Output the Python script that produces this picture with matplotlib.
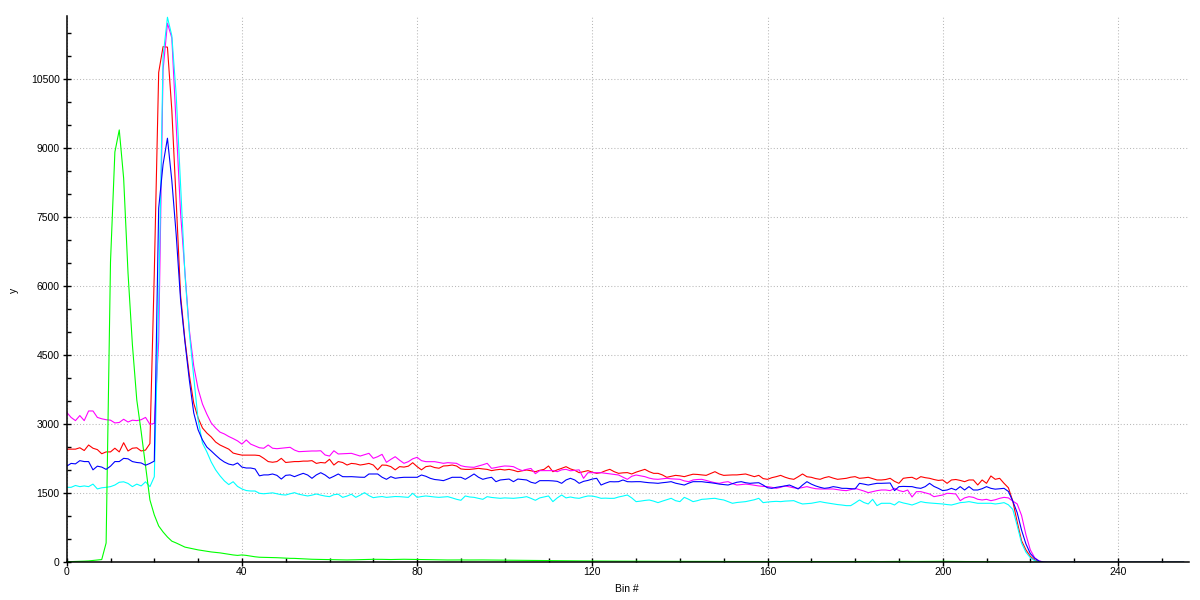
import matplotlib
matplotlib.use("Agg")
import matplotlib.pyplot as plt
from matplotlib.ticker import MultipleLocator

# bin numbers along x
bins = list(range(256))

red = [
    2460, 2460, 2460, 2490, 2430, 2550, 2480, 2450, 2360, 2400,
    2400, 2480, 2400, 2600, 2420, 2480, 2490, 2420, 2440, 2580,
    6300, 10650, 11210, 11200, 9830, 7850, 5800, 4830, 4070, 3460,
    3140, 2920, 2810, 2725, 2615, 2550, 2505, 2460, 2375, 2350,
    2330, 2330, 2330, 2330, 2320, 2260, 2190, 2175, 2190, 2260,
    2170, 2180, 2190, 2190, 2200, 2200, 2210, 2150, 2170, 2160,
    2240, 2115, 2190, 2170, 2115, 2150, 2140, 2115, 2130, 2150,
    2115, 2010, 2115, 2110, 2080, 2010, 2080, 2070, 2090, 2165,
    2080, 2010, 2080, 2094, 2060, 2045, 2094, 2100, 2115, 2094,
    2030, 2020, 2020, 2030, 2043, 2030, 2020, 1993, 2010, 2021,
    2007, 2020, 2000, 1970, 1990, 2007, 1990, 1970, 2000, 2021,
    2094, 1970, 2010, 2043, 2079, 2030, 2000, 1948, 1970, 1993,
    1960, 1934, 1950, 1990, 2021, 1970, 1934, 1945, 1950, 1920,
    1960, 1990, 2021, 1970, 1934, 1934, 1900, 1848, 1870, 1890,
    1880, 1862, 1890, 1915, 1910, 1900, 1890, 1930, 1970, 1920,
    1890, 1895, 1900, 1900, 1910, 1920, 1890, 1862, 1890, 1820,
    1804, 1840, 1862, 1890, 1850, 1820, 1804, 1860, 1920, 1860,
    1848, 1820, 1804, 1840, 1862, 1830, 1804, 1815, 1826, 1850,
    1862, 1826, 1835, 1848, 1820, 1790, 1790, 1800, 1826, 1760,
    1717, 1826, 1840, 1848, 1804, 1862, 1840, 1826, 1800, 1780,
    1790, 1717, 1790, 1800, 1780, 1753, 1790, 1790, 1681, 1790,
    1717, 1877, 1804, 1826, 1717, 1620, 1330, 880, 470, 270,
    130, 50, 12, 0, 0, 0, 0, 0, 0, 0,
    0, 0, 0, 0, 0, 0, 0, 0, 0, 0,
    0, 0, 0, 0, 0, 0, 0, 0, 0, 0,
    0, 0, 0, 0, 0, 0,
]

green = [
    15, 15, 18, 20, 25, 30, 40, 50, 60, 420,
    6530, 8920, 9400, 8350, 6290, 4730, 3530, 2840, 2090, 1355,
    1030, 790, 660, 550, 460, 420, 375, 330, 310, 290,
    270, 255, 240, 225, 215, 205, 190, 175, 160, 150,
    160, 150, 135, 120, 110, 108, 108, 105, 100, 95,
    90, 86, 85, 80, 75, 70, 66, 65, 62, 60,
    58, 55, 52, 51, 51, 52, 55, 58, 62, 65,
    65, 65, 64, 62, 60, 62, 65, 66, 65, 64,
    62, 60, 58, 55, 52, 51, 51, 50, 51, 52,
    51, 50, 50, 51, 52, 51, 50, 50, 49, 48,
    48, 47, 46, 45, 44, 42, 40, 38, 37, 36,
    36, 36, 35, 34, 33, 32, 31, 30, 30, 30,
    29, 28, 28, 27, 27, 26, 26, 25, 25, 25,
    24, 24, 23, 23, 22, 22, 22, 21, 21, 21,
    20, 20, 20, 20, 19, 19, 19, 19, 18, 18,
    18, 18, 18, 17, 17, 17, 17, 17, 16, 16,
    16, 16, 16, 16, 16, 15, 15, 15, 15, 15,
    15, 15, 16, 15, 15, 14, 15, 15, 16, 15,
    16, 17, 18, 18, 17, 16, 16, 17, 18, 19,
    20, 20, 19, 18, 18, 19, 20, 21, 22, 22,
    22, 21, 20, 20, 19, 18, 18, 17, 16, 15,
    14, 12, 10, 8, 5, 3, 1, 0, 0, 0,
    0, 0, 0, 0, 0, 0, 0, 0, 0, 0,
    0, 0, 0, 0, 0, 0, 0, 0, 0, 0,
    0, 0, 0, 0, 0, 0, 0, 0, 0, 0,
    0, 0, 0, 0, 0, 0,
]

blue = [
    2090, 2150, 2140, 2210, 2190, 2190, 2010, 2090, 2070, 2020,
    2090, 2190, 2190, 2260, 2250, 2190, 2170, 2160, 2110, 2150,
    2200, 7700, 8650, 9220, 8300, 7120, 5700, 4790, 3960, 3250,
    2880, 2660, 2505, 2420, 2330, 2245, 2180, 2135, 2115, 2160,
    2070, 2050, 2050, 2030, 1880, 1900, 1900, 1920, 1890, 1810,
    1890, 1900, 1862, 1900, 1934, 1898, 1826, 1900, 1948, 1898,
    1826, 1870, 1920, 1862, 1860, 1862, 1855, 1850, 1848, 1920,
    1920, 1920, 1850, 1804, 1862, 1826, 1840, 1848, 1848, 1848,
    1848, 1898, 1870, 1826, 1800, 1790, 1775, 1810, 1848, 1848,
    1848, 1804, 1860, 1920, 1850, 1804, 1830, 1848, 1753, 1790,
    1800, 1810, 1753, 1810, 1800, 1790, 1740, 1717, 1775, 1775,
    1775, 1770, 1760, 1717, 1790, 1826, 1790, 1717, 1760, 1780,
    1810, 1826, 1680, 1720, 1753, 1750, 1753, 1790, 1753, 1750,
    1753, 1753, 1740, 1730, 1725, 1717, 1730, 1740, 1753, 1720,
    1700, 1680, 1720, 1753, 1753, 1753, 1740, 1730, 1717, 1700,
    1690, 1680, 1710, 1740, 1753, 1730, 1717, 1725, 1730, 1680,
    1620, 1608, 1630, 1645, 1660, 1680, 1640, 1594, 1680, 1753,
    1700, 1660, 1630, 1608, 1620, 1645, 1630, 1608, 1608, 1600,
    1594, 1717, 1700, 1680, 1700, 1717, 1717, 1720, 1724, 1558,
    1645, 1650, 1648, 1645, 1620, 1608, 1645, 1717, 1650, 1608,
    1558, 1572, 1608, 1572, 1645, 1572, 1645, 1572, 1572, 1600,
    1645, 1608, 1590, 1600, 1608, 1540, 1330, 1080, 700, 400,
    190, 87, 25, 5, 0, 0, 0, 0, 0, 0,
    0, 0, 0, 0, 0, 0, 0, 0, 0, 0,
    0, 0, 0, 0, 0, 0, 0, 0, 0, 0,
    0, 0, 0, 0, 0, 0,
]

cyan = [
    1630, 1630, 1670, 1645, 1660, 1645, 1700, 1595, 1620, 1630,
    1645, 1680, 1740, 1750, 1715, 1645, 1700, 1660, 1750, 1645,
    1860, 5600, 11000, 11850, 11450, 10160, 8200, 6250, 4990, 4030,
    3100, 2590, 2400, 2180, 2010, 1880, 1770, 1690, 1752, 1650,
    1595, 1560, 1550, 1550, 1500, 1490, 1500, 1510, 1490, 1470,
    1463, 1490, 1514, 1480, 1460, 1442, 1460, 1485, 1460, 1440,
    1427, 1470, 1480, 1412, 1440, 1480, 1412, 1460, 1514, 1450,
    1405, 1420, 1430, 1412, 1420, 1430, 1427, 1420, 1412, 1500,
    1412, 1430, 1442, 1430, 1420, 1412, 1420, 1427, 1400, 1370,
    1348, 1442, 1420, 1412, 1390, 1369, 1427, 1410, 1400, 1391,
    1400, 1395, 1391, 1400, 1410, 1427, 1390, 1348, 1400, 1420,
    1442, 1319, 1400, 1463, 1400, 1420, 1400, 1391, 1420, 1442,
    1440, 1420, 1391, 1395, 1390, 1391, 1420, 1440, 1463, 1400,
    1319, 1330, 1345, 1355, 1330, 1297, 1330, 1360, 1391, 1340,
    1319, 1412, 1370, 1319, 1340, 1369, 1375, 1385, 1391, 1370,
    1355, 1320, 1283, 1300, 1310, 1319, 1340, 1360, 1391, 1297,
    1310, 1319, 1325, 1319, 1330, 1335, 1340, 1300, 1268, 1275,
    1283, 1300, 1319, 1300, 1285, 1268, 1255, 1245, 1232, 1232,
    1290, 1355, 1300, 1268, 1369, 1232, 1283, 1283, 1283, 1246,
    1319, 1290, 1270, 1246, 1280, 1319, 1300, 1290, 1283, 1275,
    1268, 1255, 1246, 1270, 1297, 1305, 1319, 1300, 1283, 1283,
    1283, 1283, 1268, 1280, 1297, 1250, 1150, 800, 420, 220,
    100, 35, 8, 0, 0, 0, 0, 0, 0, 0,
    0, 0, 0, 0, 0, 0, 0, 0, 0, 0,
    0, 0, 0, 0, 0, 0, 0, 0, 0, 0,
    0, 0, 0, 0, 0, 0,
]

magenta = [
    3260, 3150, 3080, 3190, 3080, 3290, 3290, 3150, 3120, 3100,
    3090, 3030, 3040, 3110, 3050, 3090, 3080, 3100, 3150, 3000,
    3020, 4800, 10700, 11720, 11400, 9480, 7590, 6300, 5050, 4270,
    3770, 3440, 3220, 3030, 2920, 2830, 2790, 2735, 2690, 2640,
    2570, 2660, 2570, 2530, 2490, 2480, 2550, 2480, 2470, 2480,
    2490, 2500, 2440, 2405, 2410, 2415, 2420, 2420, 2425, 2333,
    2310, 2425, 2355, 2360, 2365, 2369, 2340, 2310, 2340, 2369,
    2260, 2296, 2347, 2173, 2238, 2296, 2220, 2152, 2188, 2250,
    2282, 2210, 2188, 2188, 2188, 2170, 2152, 2166, 2160, 2152,
    2100, 2079, 2070, 2065, 2094, 2120, 2152, 2043, 2060, 2080,
    2094, 2090, 2079, 2030, 1993, 2021, 2040, 1927, 1993, 1993,
    1993, 1993, 1970, 2010, 2021, 1990, 2000, 2010, 1826, 1948,
    1948, 1948, 1948, 1935, 1920, 1910, 1898, 1850, 1804, 1870,
    1898, 1880, 1862, 1830, 1810, 1804, 1815, 1826, 1815, 1810,
    1804, 1770, 1753, 1790, 1800, 1804, 1780, 1753, 1730, 1717,
    1740, 1753, 1710, 1680, 1690, 1700, 1690, 1675, 1660, 1650,
    1645, 1630, 1608, 1630, 1660, 1640, 1620, 1608, 1625, 1645,
    1620, 1600, 1594, 1594, 1594, 1594, 1580, 1565, 1558, 1580,
    1608, 1580, 1550, 1514, 1535, 1558, 1572, 1572, 1558, 1608,
    1560, 1536, 1572, 1420, 1536, 1536, 1510, 1485, 1427, 1445,
    1463, 1500, 1495, 1485, 1340, 1400, 1427, 1412, 1370, 1355,
    1369, 1340, 1360, 1391, 1412, 1400, 1330, 1270, 1020, 600,
    270, 100, 30, 8, 0, 0, 0, 0, 0, 0,
    0, 0, 0, 0, 0, 0, 0, 0, 0, 0,
    0, 0, 0, 0, 0, 0, 0, 0, 0, 0,
    0, 0, 0, 0, 0, 0,
]

plt.rcParams["font.family"] = ["Liberation Sans", "DejaVu Sans"]
plt.rcParams["font.size"] = 7.5

fig = plt.figure(figsize=(12, 6), dpi=100)
ax = fig.add_axes([66.7 / 1200, 37.7 / 600, 1122.6 / 1200, 546.3 / 600])

lw = 0.8
ax.plot(bins, red, color="#ff0000", lw=lw)
ax.plot(bins, magenta, color="#ff00ff", lw=lw)
ax.plot(bins, cyan, color="#00ffff", lw=lw)
ax.plot(bins, green, color="#00ff00", lw=lw)
ax.plot(bins, blue, color="#0000ff", lw=lw)

ax.set_xlim(0, 256.3)
ax.set_ylim(0, 11877)

ax.xaxis.set_major_locator(MultipleLocator(40))
ax.xaxis.set_minor_locator(MultipleLocator(10))
ax.yaxis.set_major_locator(MultipleLocator(1500))
ax.yaxis.set_minor_locator(MultipleLocator(500))

ax.grid(True, which="major", color="#b8b8b8", linestyle=(0, (1, 2)), linewidth=0.75)
ax.set_axisbelow(True)

for side in ["top", "right"]:
    ax.spines[side].set_visible(False)
for side in ["left", "bottom"]:
    ax.spines[side].set_linewidth(1.1)
    ax.spines[side].set_color("black")

ax.tick_params(which="major", direction="inout", length=6, width=1, color="black", labelsize=7.5)
ax.tick_params(axis="x", which="major", pad=0.5)
ax.tick_params(axis="y", which="major", pad=2)
ax.tick_params(which="minor", direction="in", length=3, width=1, color="black")

ax.set_xlabel("Bin #", va="center")
ax.xaxis.set_label_coords(0.499, -0.049)
ax.set_ylabel("y", va="center", ha="center")
ax.yaxis.set_label_coords(-0.047, 0.498)

fig.savefig("out.png", dpi=100)
